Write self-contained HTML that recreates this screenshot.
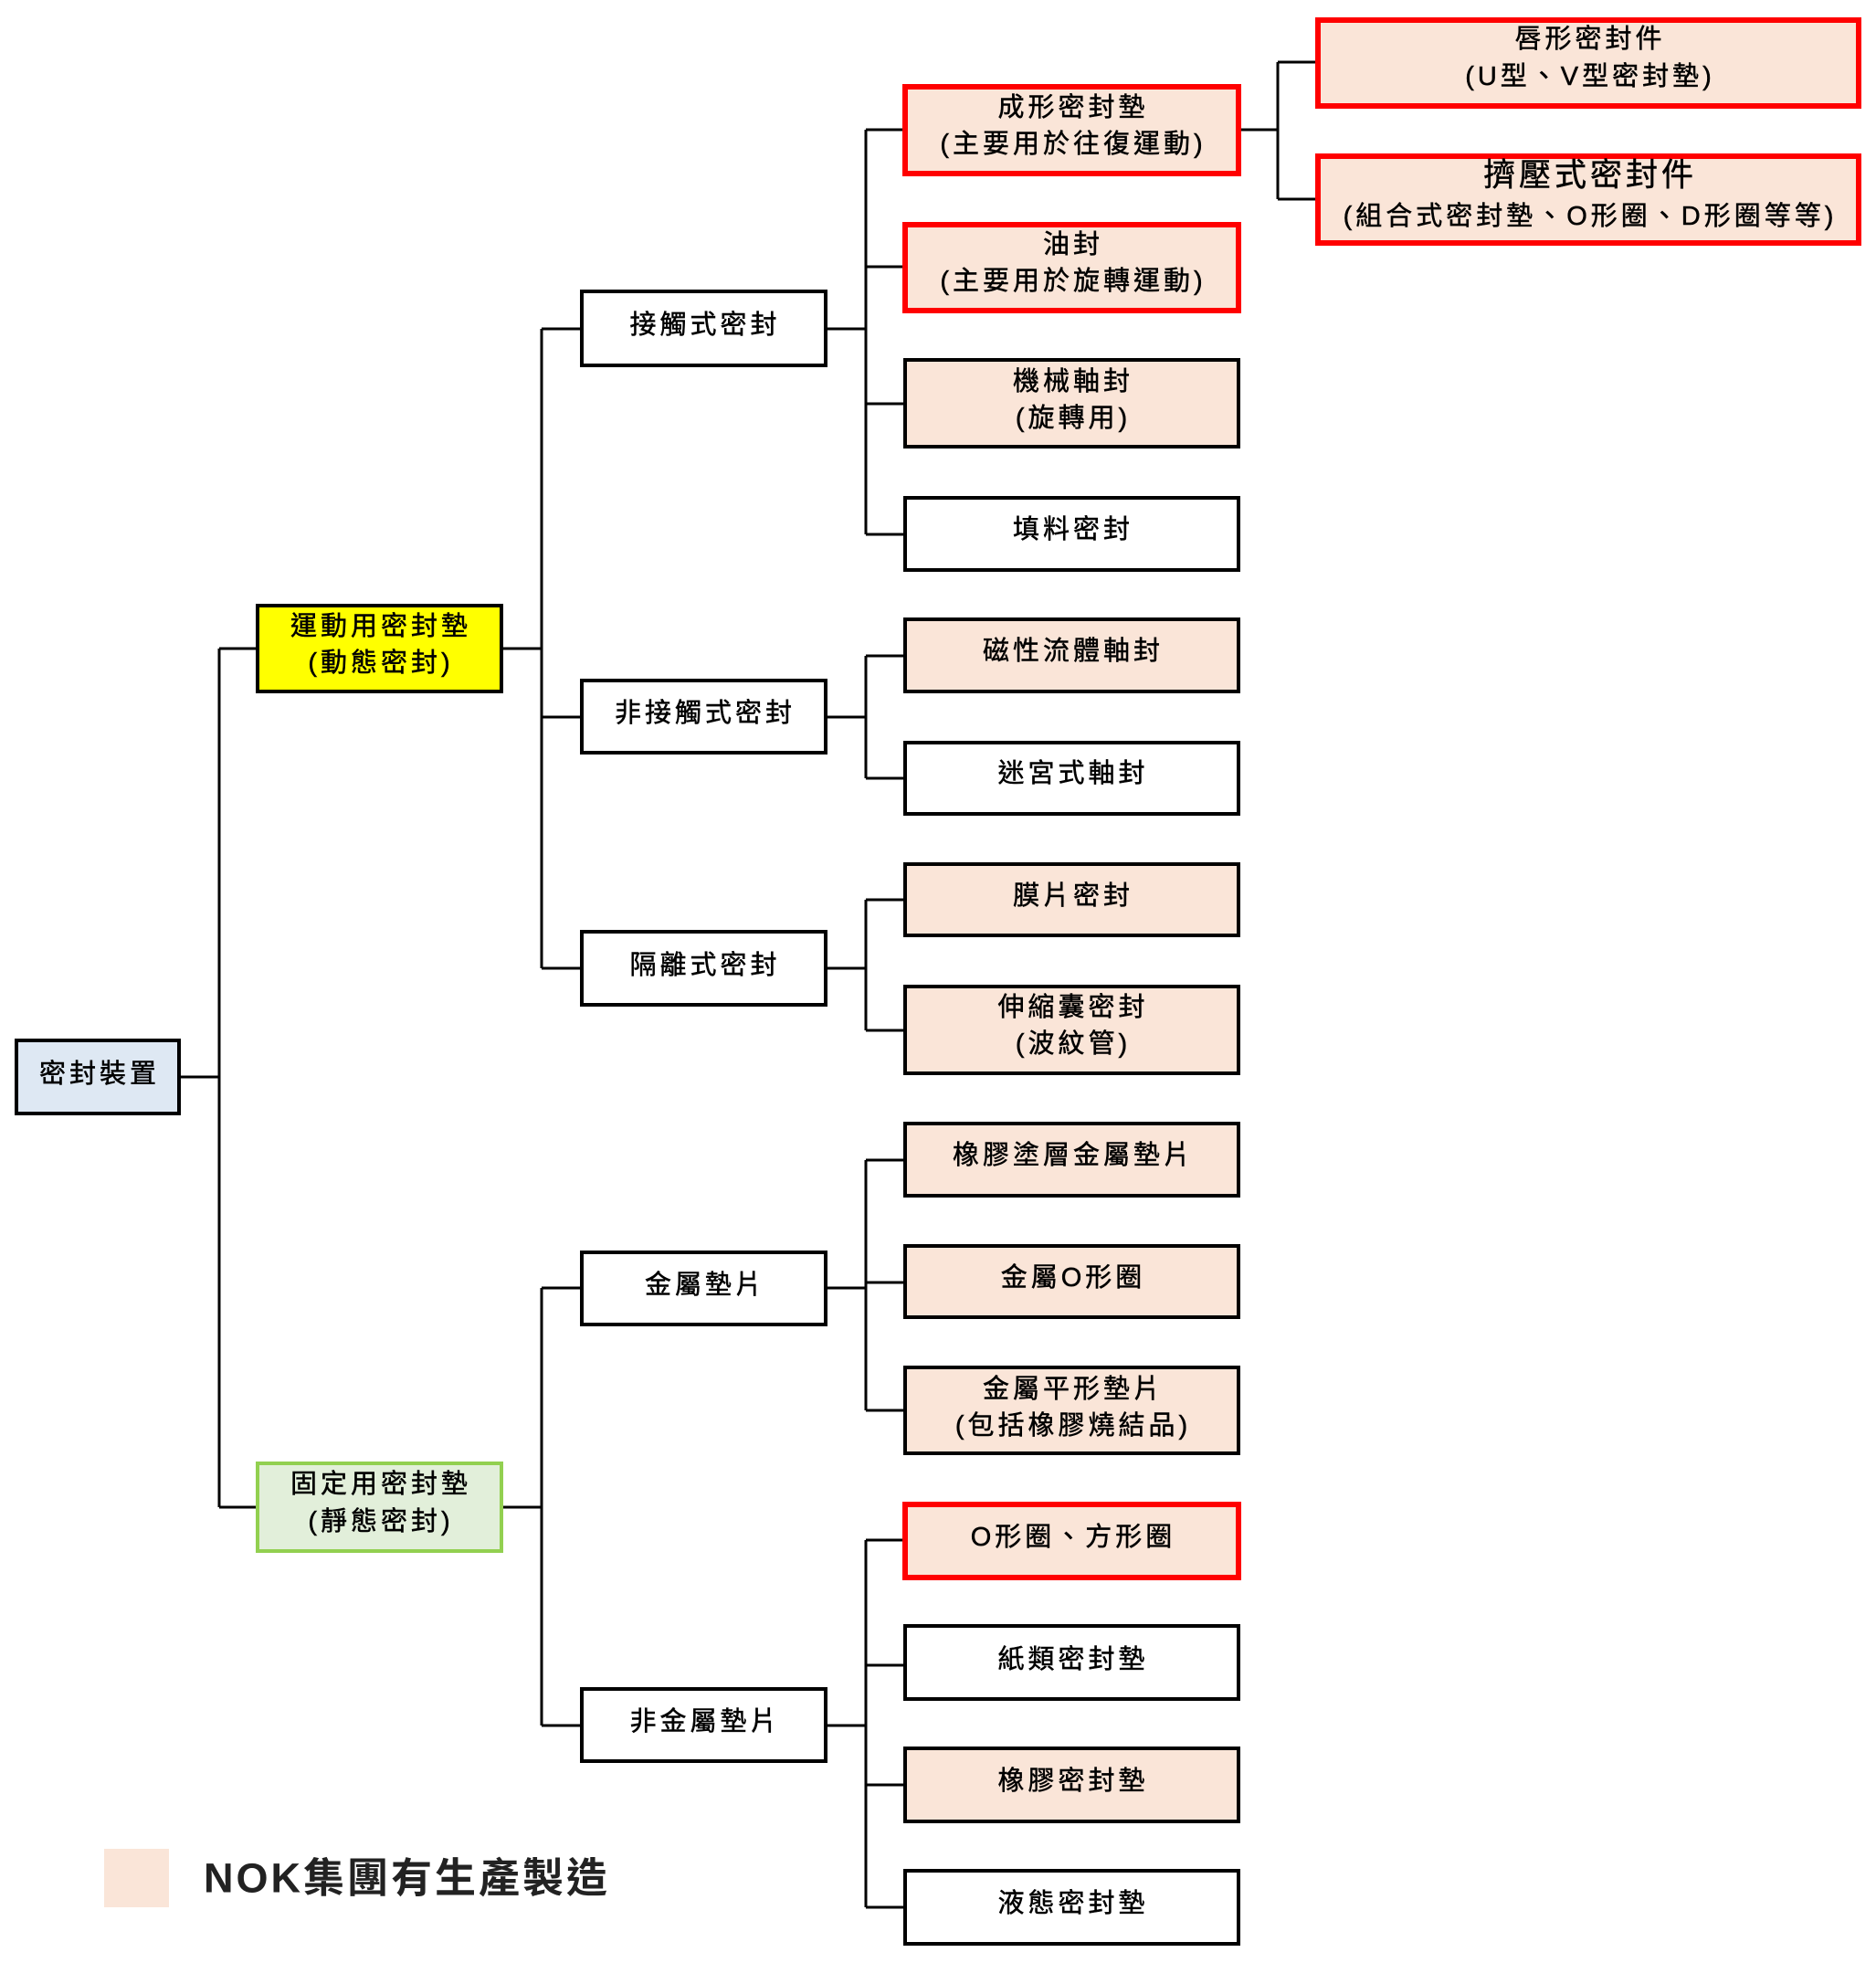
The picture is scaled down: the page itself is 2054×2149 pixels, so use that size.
<!DOCTYPE html>
<html><head><meta charset="utf-8"><style>
html,body{margin:0;padding:0;background:#fff}
svg text{font-family:"Liberation Sans","Noto Sans CJK TC",sans-serif;font-size:29px;fill:#000;text-anchor:middle;dominant-baseline:central;letter-spacing:4px;stroke:#000;stroke-width:0.5px}
</style></head><body>
<svg width="2054" height="2144" viewBox="0 0 2054 2144" xmlns="http://www.w3.org/2000/svg">
<g stroke="#000" stroke-width="3" fill="none">
<path d="M196 1179H240M240 710V1650M240 710H282M240 1650H282"/>
<path d="M549 710H593M593 360V1060M593 360H637M593 785H637M593 1060H637"/>
<path d="M549 1650H593M593 1410V1889M593 1410H637M593 1889H637"/>
<path d="M904 360H948M948 142V585M948 142H991M948 292H991M948 442H991M948 585H991"/>
<path d="M904 785H948M948 718V852M948 718H991M948 852H991"/>
<path d="M904 1060H948M948 985V1128M948 985H991M948 1128H991"/>
<path d="M904 1410H948M948 1270V1544M948 1270H991M948 1404H991M948 1544H991"/>
<path d="M904 1889H948M948 1686V2088M948 1686H991M948 1823H991M948 1954H991M948 2088H991"/>
<path d="M1356 142H1399M1399 68V218M1399 68H1442M1399 218H1442"/>
</g>
<g stroke="#000" stroke-width="4">
<rect x="18" y="1139" width="178" height="80" fill="#dee8f3"/>
<rect x="282" y="663" width="267" height="94" fill="#ffff00"/>
<rect x="282" y="1602" width="267" height="96" fill="#e2efda" stroke="#92d050"/>
<g fill="#fff">
<rect x="637" y="319" width="267" height="81"/>
<rect x="637" y="745" width="267" height="79"/>
<rect x="637" y="1020" width="267" height="80"/>
<rect x="637" y="1371" width="267" height="79"/>
<rect x="637" y="1849" width="267" height="79"/>
<rect x="991" y="545" width="365" height="79"/>
<rect x="991" y="813" width="365" height="78"/>
<rect x="991" y="1780" width="365" height="80"/>
<rect x="991" y="2048" width="365" height="80"/>
</g>
<g fill="#fae5d8">
<rect x="991" y="394" width="365" height="95"/>
<rect x="991" y="678" width="365" height="79"/>
<rect x="991" y="946" width="365" height="78"/>
<rect x="991" y="1080" width="365" height="95"/>
<rect x="991" y="1230" width="365" height="79"/>
<rect x="991" y="1364" width="365" height="78"/>
<rect x="991" y="1497" width="365" height="94"/>
<rect x="991" y="1914" width="365" height="80"/>
</g>
<g fill="#fae5d8" stroke="#ff0000" stroke-width="6">
<rect x="991" y="95" width="365" height="95"/>
<rect x="991" y="246" width="365" height="94"/>
<rect x="991" y="1647" width="365" height="80"/>
<rect x="1443" y="22" width="592" height="94"/>
<rect x="1443" y="171" width="592" height="95"/>
</g>
</g>
<rect x="114" y="2024" width="71" height="64" fill="#fae5d8"/>
<text x="223" y="2056" style="text-anchor:start;font-size:45px;font-weight:bold;fill:#222;stroke:none;letter-spacing:3px">NOK集團有生產製造</text>
<text x="109" y="1176">密封裝置</text>
<text x="417" y="686">運動用密封墊</text><text x="417" y="726">(動態密封)</text>
<text x="417" y="1625">固定用密封墊</text><text x="417" y="1666">(靜態密封)</text>
<text x="772" y="356">接觸式密封</text>
<text x="772" y="781">非接觸式密封</text>
<text x="772" y="1057">隔離式密封</text>
<text x="772" y="1407">金屬墊片</text>
<text x="772" y="1885">非金屬墊片</text>
<text x="1175" y="118">成形密封墊</text><text x="1175" y="158">(主要用於往復運動)</text>
<text x="1175" y="268">油封</text><text x="1175" y="308">(主要用於旋轉運動)</text>
<text x="1175" y="418">機械軸封</text><text x="1175" y="458">(旋轉用)</text>
<text x="1175" y="580">填料密封</text>
<text x="1175" y="713">磁性流體軸封</text>
<text x="1175" y="847">迷宮式軸封</text>
<text x="1175" y="981">膜片密封</text>
<text x="1175" y="1103">伸縮囊密封</text><text x="1175" y="1143">(波紋管)</text>
<text x="1175" y="1265">橡膠塗層金屬墊片</text>
<text x="1175" y="1399">金屬O形圈</text>
<text x="1175" y="1521">金屬平形墊片</text><text x="1175" y="1561">(包括橡膠燒結品)</text>
<text x="1175" y="1683">O形圈、方形圈</text>
<text x="1175" y="1817">紙類密封墊</text>
<text x="1175" y="1950">橡膠密封墊</text>
<text x="1175" y="2084">液態密封墊</text>
<text x="1741" y="43">唇形密封件</text><text x="1741" y="84">(U型、V型密封墊)</text>
<text x="1741" y="192" style="font-size:35px">擠壓式密封件</text><text x="1741" y="237">(組合式密封墊、O形圈、D形圈等等)</text>
</svg>
</body></html>
